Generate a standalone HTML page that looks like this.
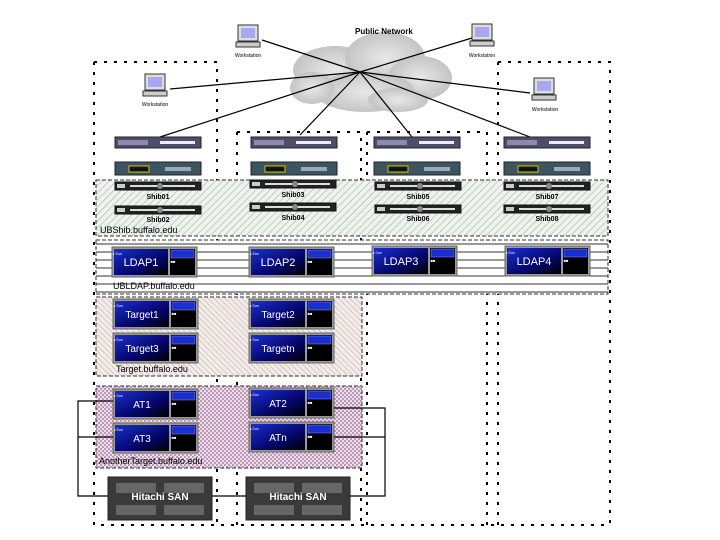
<!DOCTYPE html>
<html><head><meta charset="utf-8"><style>
html,body{margin:0;padding:0;background:#fff;}
svg{display:block;font-family:"Liberation Sans",sans-serif;}
</style></head><body>
<svg width="720" height="540" viewBox="0 0 720 540" xmlns="http://www.w3.org/2000/svg">
<defs>
<pattern id="hg" width="5" height="5" patternUnits="userSpaceOnUse" patternTransform="rotate(45)"><rect width="5" height="5" fill="#eef3ee"/><line x1="0" y1="0" x2="0" y2="5" stroke="#9aa89a" stroke-width="1"/></pattern>
<pattern id="hp" width="4" height="4" patternUnits="userSpaceOnUse" patternTransform="rotate(-45)"><rect width="4" height="4" fill="#f3ece8"/><line x1="0" y1="0" x2="0" y2="4" stroke="#b7a7a5" stroke-width="1"/></pattern>
<pattern id="ck" width="4" height="4" patternUnits="userSpaceOnUse"><rect width="4" height="4" fill="#f2dcef"/><rect width="2" height="2" fill="#b89ab3"/><rect x="2" y="2" width="2" height="2" fill="#b89ab3"/></pattern>
<pattern id="hl" width="6" height="8" patternUnits="userSpaceOnUse"><rect width="6" height="8" fill="#fff"/><line x1="0" y1="4" x2="6" y2="4" stroke="#333" stroke-width="1"/></pattern>
<radialGradient id="cl" cx="0.5" cy="0.5" r="0.6"><stop offset="0" stop-color="#e8e8e8"/><stop offset="1" stop-color="#bdbdbd"/></radialGradient>
<linearGradient id="sun" x1="0" y1="0" x2="1" y2="1"><stop offset="0" stop-color="#1a2fd0"/><stop offset="0.6" stop-color="#05056a"/><stop offset="1" stop-color="#000"/></linearGradient>
<g id="fw"><rect width="86" height="11" fill="#4d4d6e" stroke="#222"/><rect x="3" y="3" width="30" height="5" fill="#8a8ab0"/><rect x="45" y="4" width="35" height="3" fill="#eee"/></g>
<g id="sw"><rect width="86" height="13" fill="#3d5560" stroke="#222"/><rect x="14" y="4" width="20" height="6" fill="#111" stroke="#cc0"/><rect x="50" y="5" width="26" height="4" fill="#9ab"/></g>
<g id="sv"><rect width="86" height="8" fill="#222" stroke="#111"/><rect x="2" y="2" width="8" height="4" fill="#ccc"/><rect x="15" y="3" width="65" height="2" fill="#ddd"/><circle cx="45" cy="4" r="3" fill="#888"/></g>
<g id="sn"><rect width="85" height="30" fill="#999" stroke="#666"/><rect x="2" y="2" width="54" height="26" fill="url(#sun)"/><rect x="58" y="2" width="25" height="26" fill="#000"/><rect x="59" y="3" width="23" height="8" fill="#1a2fd0" stroke="#88f" stroke-width="0.5"/><text x="5" y="8" font-size="3.5" fill="#fff">● Sun</text><text x="61" y="16" font-size="4" fill="#fff">■■</text></g>
<g id="san"><rect width="104" height="43" fill="#3a3a3a" stroke="#222"/><rect x="8" y="6" width="40" height="10" fill="#666"/><rect x="56" y="6" width="40" height="10" fill="#666"/><rect x="8" y="28" width="40" height="10" fill="#666"/><rect x="56" y="28" width="40" height="10" fill="#666"/></g>
<g id="ws"><rect x="2" y="0" width="20" height="16" fill="#ddd" stroke="#333"/><rect x="5" y="3" width="14" height="10" fill="#a8a8f0"/><rect x="0" y="17" width="24" height="5" fill="#ccc" stroke="#333"/></g>
</defs>
<!-- cloud -->
<g fill="url(#cl)"><ellipse cx="335" cy="70" rx="42" ry="24"/><ellipse cx="385" cy="58" rx="40" ry="26"/><ellipse cx="420" cy="78" rx="32" ry="22"/><ellipse cx="365" cy="92" rx="50" ry="20"/><ellipse cx="312" cy="88" rx="22" ry="16"/><ellipse cx="398" cy="100" rx="30" ry="12"/></g>
<text x="355" y="34" font-size="8" font-weight="bold">Public Network</text>
<!-- column boxes -->
<g fill="none" stroke="#000" stroke-width="2" stroke-dasharray="3,7">
<path d="M94 62H217V525M94 62V525H610"/>
<path d="M237 132H361V525M237 132V525"/>
<path d="M367 132H487V525M367 132V525"/>
<path d="M498 62H610V525M498 62V525"/>
</g>
<!-- groups -->
<rect x="96" y="180" width="512" height="56" fill="url(#hg)" stroke="#333" stroke-dasharray="4,2"/>
<rect x="96" y="240" width="512" height="54" fill="url(#hl)" stroke="#333" stroke-dasharray="4,2"/>
<rect x="96" y="297" width="266" height="79" fill="url(#hp)" stroke="#333" stroke-dasharray="4,2"/>
<rect x="96" y="386" width="266" height="82" fill="url(#ck)" stroke="#333" stroke-dasharray="4,2"/>
<!-- network lines -->
<g stroke="#000" stroke-width="1.2">
<line x1="360" y1="72" x2="262" y2="40"/><line x1="360" y1="72" x2="472" y2="38"/>
<line x1="360" y1="72" x2="170" y2="89"/><line x1="360" y1="72" x2="530" y2="93"/>
<line x1="360" y1="72" x2="160" y2="137"/><line x1="360" y1="72" x2="300" y2="135"/>
<line x1="360" y1="72" x2="412" y2="137"/><line x1="360" y1="72" x2="530" y2="137"/>
</g>
<use href="#ws" x="236" y="25"/><text x="248" y="57" font-size="5" text-anchor="middle">Workstation</text>
<use href="#ws" x="470" y="24"/><text x="482" y="57" font-size="5" text-anchor="middle">Workstation</text>
<use href="#ws" x="143" y="74"/><text x="155" y="106" font-size="5" text-anchor="middle">Workstation</text>
<use href="#ws" x="532" y="78"/><text x="545" y="111" font-size="5" text-anchor="middle">Workstation</text>
<!-- firewalls/switches -->
<use href="#fw" x="115" y="137"/><use href="#fw" x="251" y="137"/><use href="#fw" x="374" y="137"/><use href="#fw" x="504" y="137"/>
<use href="#sw" x="115" y="162"/><use href="#sw" x="251" y="162"/><use href="#sw" x="374" y="162"/><use href="#sw" x="504" y="162"/>
<!-- shib -->
<g font-size="7" font-weight="bold" text-anchor="middle">
<use href="#sv" x="115" y="182"/><text x="158" y="199">Shib01</text>
<use href="#sv" x="115" y="206"/><text x="158" y="222">Shib02</text>
<use href="#sv" x="250" y="180"/><text x="293" y="197">Shib03</text>
<use href="#sv" x="250" y="203"/><text x="293" y="220">Shib04</text>
<use href="#sv" x="375" y="182"/><text x="418" y="199">Shib05</text>
<use href="#sv" x="375" y="205"/><text x="418" y="221">Shib06</text>
<use href="#sv" x="504" y="182"/><text x="547" y="199">Shib07</text>
<use href="#sv" x="504" y="205"/><text x="547" y="221">Shib08</text>
</g>
<text x="100" y="233" font-size="9">UBShib.buffalo.edu</text>
<!-- ldap -->
<g font-size="11" fill="#fff" text-anchor="middle">
<use href="#sn" x="112" y="247"/><text x="141" y="266">LDAP1</text>
<use href="#sn" x="249" y="247"/><text x="278" y="266">LDAP2</text>
<use href="#sn" x="372" y="246"/><text x="401" y="265">LDAP3</text>
<use href="#sn" x="505" y="246"/><text x="534" y="265">LDAP4</text>
</g>
<text x="113" y="289" font-size="9">UBLDAP.buffalo.edu</text>
<!-- targets -->
<g font-size="10" fill="#fff" text-anchor="middle">
<use href="#sn" x="113" y="299"/><text x="142" y="318">Target1</text>
<use href="#sn" x="113" y="333"/><text x="142" y="352">Target3</text>
<use href="#sn" x="249" y="299"/><text x="278" y="318">Target2</text>
<use href="#sn" x="249" y="333"/><text x="278" y="352">Targetn</text>
</g>
<text x="116" y="372" font-size="9">Target.buffalo.edu</text>
<!-- AT -->
<g font-size="10" fill="#fff" text-anchor="middle">
<use href="#sn" x="113" y="389"/><text x="142" y="408">AT1</text>
<use href="#sn" x="113" y="423"/><text x="142" y="442">AT3</text>
<use href="#sn" x="249" y="388"/><text x="278" y="407">AT2</text>
<use href="#sn" x="249" y="422"/><text x="278" y="441">ATn</text>
</g>
<text x="99" y="464" font-size="9">AnotherTarget.buffalo.edu</text>
<!-- SAN -->
<g fill="none" stroke="#000" stroke-width="1.2">
<path d="M113 401H78V496H108M113 437H78"/>
<path d="M334 408H385V496H350M334 437H385"/>
<line x1="212" y1="496" x2="246" y2="496"/>
</g>
<use href="#san" x="108" y="477"/><use href="#san" x="246" y="477"/>
<g font-size="10" font-weight="bold" fill="#fff" text-anchor="middle">
<text x="160" y="500">Hitachi SAN</text><text x="298" y="500">Hitachi SAN</text></g>
</svg>
</body></html>
